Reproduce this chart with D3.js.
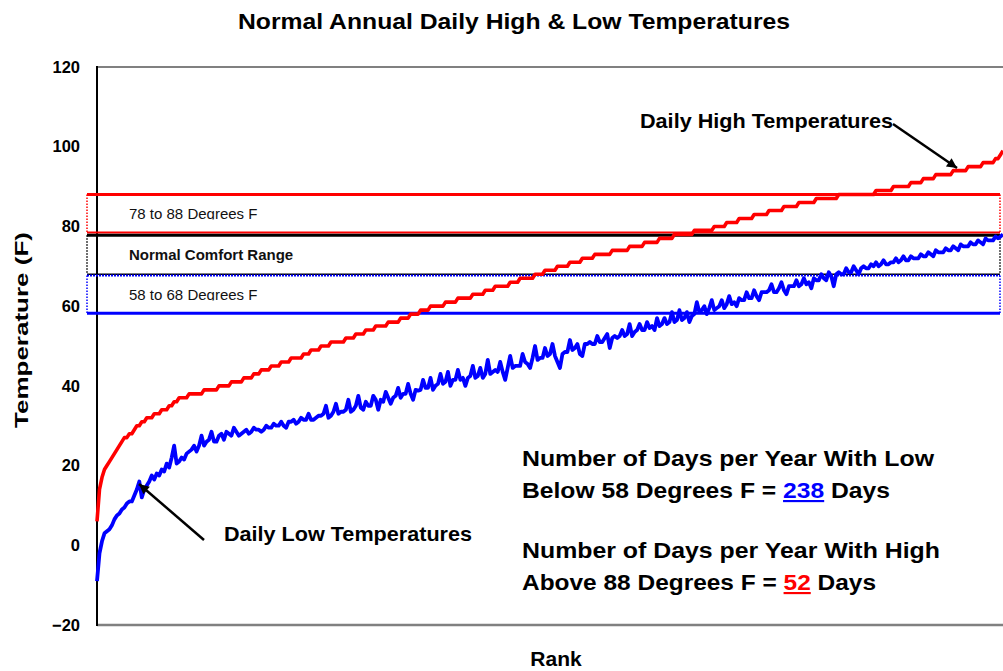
<!DOCTYPE html>
<html><head><meta charset="utf-8">
<script src="https://cdn.jsdelivr.net/npm/d3@7"></script>
<style>
body{margin:0;background:#fff}
svg{display:block}
text{font-family:Arial,"Liberation Sans",sans-serif}
</style>
</head><body>
<svg id="chart" width="1003" height="671"></svg>
<script>
// ---- Data ----
const highTemps = [
6,14,17,19,20,21,22,23,24,25,
26,27,27,28,28,29,30,30,31,31,
32,32,32,33,33,33,34,34,34,35,
35,36,36,37,37,37,37,38,38,38,
38,38,38,39,39,39,39,39,39,40,
40,40,40,40,41,41,41,41,41,42,
42,42,42,43,43,43,44,44,44,44,
45,45,45,45,46,46,46,46,47,47,
47,47,47,48,48,48,49,49,49,49,
50,50,50,50,51,51,51,51,51,51,
52,52,52,52,53,53,53,53,54,54,
54,54,55,55,55,55,55,56,56,56,
56,56,57,57,57,57,58,58,58,58,
59,59,59,59,60,60,60,60,60,60,
61,61,61,61,61,62,62,62,62,62,
62,63,63,63,63,63,64,64,64,64,
65,65,65,65,65,65,66,66,66,66,
67,67,67,67,67,67,68,68,68,68,
69,69,69,69,69,70,70,70,70,70,
71,71,71,71,71,72,72,72,72,72,
73,73,73,73,73,73,73,74,74,74,
74,74,74,74,75,75,75,75,75,75,
76,76,76,76,76,76,77,77,77,77,
77,77,78,78,78,78,78,78,78,78,
79,79,79,79,79,79,79,79,80,80,
80,80,80,81,81,81,81,81,82,82,
82,82,82,82,83,83,83,83,83,83,
84,84,84,84,84,84,85,85,85,85,
85,85,86,86,86,86,86,86,86,87,
87,87,87,87,87,87,87,87,88,88,
88,88,88,88,88,88,88,88,88,88,
88,88,88,89,89,89,89,89,89,89,
90,90,90,90,90,90,90,91,91,91,
91,91,92,92,92,92,92,93,93,93,
93,93,93,93,94,94,94,94,94,94,
95,95,95,95,95,95,96,96,96,96,
96,97,97,98,99
];
const lowTemps = [
-9,-2,1,3,3.5,4,5,6.5,7.5,8,
9,9.5,10.5,11,11,12.5,14,16,12,14,
15,16,17.5,16.5,18,17.5,19,18.5,20.5,19.5,
22,25,20.5,21,22,21.5,23,23.5,24,25,
23.5,25,27.5,25,26,26.5,28.5,26,26,27.5,
28,26.5,28.5,28,27.5,29.5,28.5,27.5,28,28.5,
29,28,28.5,29.5,29,29,28.5,29,30,29.5,
29.5,30.5,30,30,31,30,29.5,31,31,31.5,
30.5,31,32,31.5,31.5,33,31.5,31.5,32,32.5,
32.5,33,35,32,32.5,33.5,35.5,33,33.5,33.5,
34,36.5,33.5,34,35,37.5,34.5,34,36,35,
35,37.5,36.5,34,36.5,36,38.5,37,35.5,37,
37.5,39.5,37,38,38,40.5,38,36.5,39,38.8,
39,41.5,39.5,39.5,42,39,40,40.5,43,40.5,
41,43.5,40,41.5,41.5,44,41.5,42,40,42,
42.5,45,42,42.5,44.5,42,43,46.5,43,43.5,
44,43.5,46,43.5,41.5,44.5,47.5,44.5,45,45,
45,48,46,45.5,44.5,47,50,46.5,47,47,
49.5,47.5,48,50.5,47.5,46,44.5,48,48.5,48.5,
51.5,49,49.5,50.5,48,47.5,50.5,50.5,51,50.5,
50.5,52.5,51,51,52,53,49.5,52,52.5,52,
52.5,54,52.5,53,55.5,52.5,53.5,54,55.5,54,
54,56,54.5,55,54,57,55,55.5,57,55.5,
56,58.5,56,56.5,59,56.5,57,58.5,56,57.5,
58,61,58.5,59,60,58,59.5,61.5,59,59.5,
60,61.5,59.5,60.5,62.5,60.5,61,60,62,61.5,
61.5,63.5,62,62,64,62.5,61.5,63.5,63.5,63.5,
64,65.5,63.5,63.5,64.5,66,64,63,65,65,
65,66.5,65,65.5,67,65.5,66,64.5,67,66.5,
66.5,68,67,66.5,68.5,67.5,65,68,68.5,68,
68,69.5,68.5,68.5,70,69,68,69.5,70,69.5,
69.5,70.5,70,71,70,70.5,71.5,70.5,70.5,71,
71,72,71,71.5,72.5,71.5,71.5,72.5,72,72,
72,73,72.5,72.5,73.5,73,72.5,74,73.5,73.5,
73.5,74.5,74,74,75,74.5,74,75.5,75,75,
75,76,75.5,75.5,76.5,76,75.5,77,76.5,76.5,
76.5,77.5,77,77.5,78
];
const yTicks = [-20, 0, 20, 40, 60, 80, 100, 120];
const bandLows  = [78, 68, 58];
const bandHighs = [88, 78, 68];
const bandLabels = ["78 to 88 Degrees F", "Normal Comfort Range", "58 to 68 Degrees F"];
const bandColors = ["#ff0000", "#000000", "#0000ff"];
const daysLowBelow58 = 238;
const daysHighAbove88 = 52;

// ---- Drawing ----
const svg = d3.select("#chart");
const x = d3.scaleLinear().domain([1, highTemps.length]).range([97, 1003]);
const y = d3.scaleLinear().domain([-20, 120]).range([625, 67]);

// plot frame
svg.append("line").attr("x1", 97).attr("x2", 1003).attr("y1", 67).attr("y2", 67)
  .attr("stroke", "#808080").attr("stroke-width", 2);
svg.append("line").attr("x1", 97).attr("x2", 1003).attr("y1", 625).attr("y2", 625)
  .attr("stroke", "#808080").attr("stroke-width", 2.5);

// y axis
const yAxis = svg.append("g").attr("transform", "translate(97,0)")
  .call(d3.axisLeft(y).tickValues(yTicks).tickSize(0).tickPadding(17));
yAxis.select(".domain").remove();
yAxis.selectAll("text").attr("font-size", 16.5).attr("font-weight", "bold")
  .attr("fill", "#000").style("font-family", "Arial, 'Liberation Sans', sans-serif");
svg.append("line").attr("x1", 97).attr("x2", 97).attr("y1", 66).attr("y2", 626)
  .attr("stroke", "#000").attr("stroke-width", 2);

// bands
const bandStyle = [
  {topOff: 0,   botOff: -2,   topW: 3,   botW: 2,   topDash: null, bold: false, clip: true},
  {topOff: 0.8, botOff: 0,    topW: 3,   botW: 1.5, topDash: null, bold: true,  clip: false},
  {topOff: 1.2, botOff: -0.8, topW: 2,   botW: 3,   topDash: "2,1", bold: false, clip: true}
];
const defs = svg.append("defs");
bandLows.forEach((lo, i) => {
  const hi = bandHighs[i], c = bandColors[i], s = bandStyle[i];
  const yt = y(hi) + s.topOff, yb = y(lo) + s.botOff;
  const g = svg.append("g");
  [87, 1000].forEach(xx => g.append("line").attr("x1", xx).attr("x2", xx)
    .attr("y1", yt).attr("y2", yb).attr("stroke", c).attr("stroke-width", 1.5)
    .attr("stroke-dasharray", "1.5,1.5"));
  g.append("line").attr("x1", 87).attr("x2", 1000).attr("y1", yt).attr("y2", yt)
    .attr("stroke", c).attr("stroke-width", s.topW)
    .attr("stroke-dasharray", s.topDash);
  g.append("line").attr("x1", 87).attr("x2", 1000).attr("y1", yb).attr("y2", yb)
    .attr("stroke", c).attr("stroke-width", s.botW);
  const base = (yt + yb) / 2 + 5.5;
  if (s.clip) {
    defs.append("clipPath").attr("id", "bc" + i).append("rect")
      .attr("x", 100).attr("y", yt + 2).attr("width", 400).attr("height", base + 0.5 - yt - 2);
  }
  g.append("text").attr("x", 129).attr("y", base)
    .attr("font-size", 15).attr("font-weight", s.bold ? "bold" : "normal")
    .attr("fill", "#111")
    .attr("clip-path", s.clip ? "url(#bc" + i + ")" : null)
    .text(bandLabels[i]);
});

// series lines
const line = d3.line().x((d, i) => x(i + 1)).y(d => y(d));
svg.append("path").datum(highTemps).attr("d", line).attr("fill", "none")
  .attr("stroke", "#ff0000").attr("stroke-width", 3.6).attr("stroke-linejoin", "round");
svg.append("path").datum(lowTemps).attr("d", line).attr("fill", "none")
  .attr("stroke", "#0000ff").attr("stroke-width", 3.8).attr("stroke-linejoin", "round");

// arrow marker
defs.append("marker").attr("id", "arr").attr("viewBox", "0 0 10 10")
  .attr("refX", 10).attr("refY", 5).attr("markerWidth", 5).attr("markerHeight", 4)
  .attr("markerUnits", "strokeWidth").attr("orient", "auto")
  .append("path").attr("d", "M0,0 L10,5 L0,10 Z").attr("fill", "#000");

svg.append("line").attr("x1", 893).attr("y1", 124).attr("x2", 957).attr("y2", 168)
  .attr("stroke", "#000").attr("stroke-width", 2.5).attr("marker-end", "url(#arr)");
svg.append("line").attr("x1", 204).attr("y1", 540).attr("x2", 139).attr("y2", 484)
  .attr("stroke", "#000").attr("stroke-width", 2.5).attr("marker-end", "url(#arr)");

// titles
svg.append("text").attr("x", 238).attr("y", 29).attr("font-size", 22).attr("font-weight", "bold")
  .attr("textLength", 552).attr("lengthAdjust", "spacingAndGlyphs")
  .text("Normal Annual Daily High & Low Temperatures");
svg.append("text").attr("transform", "translate(28,330) rotate(-90)").attr("text-anchor", "middle")
  .attr("font-size", 19).attr("font-weight", "bold")
  .attr("textLength", 196).attr("lengthAdjust", "spacingAndGlyphs")
  .text("Temperature (F)");
svg.append("text").attr("x", 556).attr("y", 666).attr("text-anchor", "middle")
  .attr("font-size", 21).attr("font-weight", "bold").text("Rank");

// annotations
svg.append("text").attr("x", 640).attr("y", 128).attr("font-size", 21).attr("font-weight", "bold")
  .attr("textLength", 253).attr("lengthAdjust", "spacingAndGlyphs").text("Daily High Temperatures");
svg.append("text").attr("x", 224).attr("y", 541).attr("font-size", 21).attr("font-weight", "bold")
  .attr("textLength", 248).attr("lengthAdjust", "spacingAndGlyphs").text("Daily Low Temperatures");

const ann = svg.append("g").attr("font-size", 21.5).attr("font-weight", "bold");
ann.append("text").attr("x", 522).attr("y", 466)
  .attr("textLength", 412).attr("lengthAdjust", "spacingAndGlyphs")
  .text("Number of Days per Year With Low");
const l2 = ann.append("text").attr("x", 522).attr("y", 498)
  .attr("textLength", 368).attr("lengthAdjust", "spacingAndGlyphs");
l2.append("tspan").text("Below 58 Degrees F = ");
l2.append("tspan").attr("fill", "#0000ff").attr("text-decoration", "underline").text(daysLowBelow58);
l2.append("tspan").text(" Days");
ann.append("text").attr("x", 522).attr("y", 558)
  .attr("textLength", 418).attr("lengthAdjust", "spacingAndGlyphs")
  .text("Number of Days per Year With High");
const l4 = ann.append("text").attr("x", 522).attr("y", 590)
  .attr("textLength", 354).attr("lengthAdjust", "spacingAndGlyphs");
l4.append("tspan").text("Above 88 Degrees F = ");
l4.append("tspan").attr("fill", "#ff0000").attr("text-decoration", "underline").text(daysHighAbove88);
l4.append("tspan").text(" Days");
</script>
</body></html>
